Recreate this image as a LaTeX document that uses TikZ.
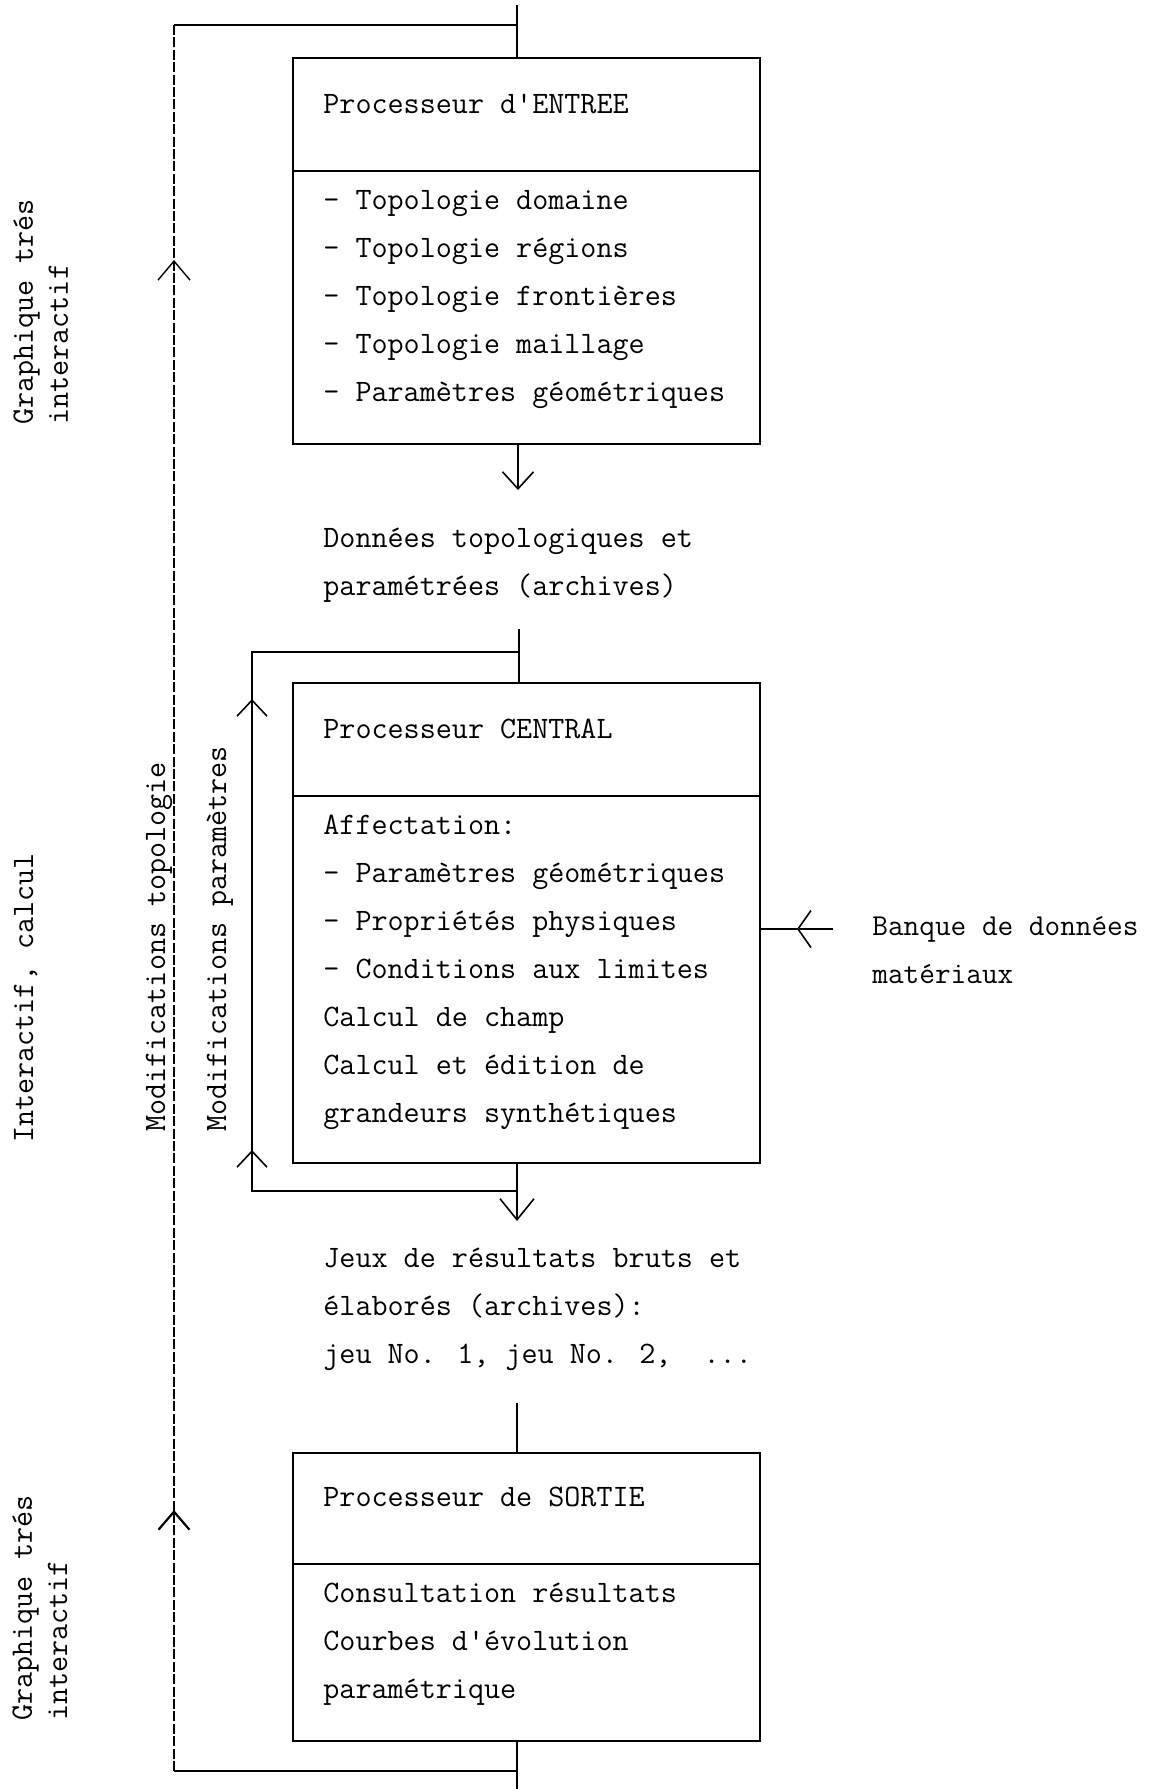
\documentclass[tikz,border=0pt]{standalone}
\usepackage{fontspec}
\usetikzlibrary{arrows.meta,decorations.markings}
\begin{document}
\begin{tikzpicture}[x=0.5pt,y=-0.5pt,
  boxst/.style={draw, line width=1.1pt, minimum width=233.5pt, inner sep=0pt, anchor=north west},
  divline/.style={line width=1pt},
  conn/.style={line width=0.8pt},
  thinv/.style={line width=0.6pt, dash pattern=on 5pt off 1.2pt},
  txt/.style={font=\fontsize{15.6pt}{24pt}\selectfont\ttfamily, anchor=base west, inner sep=0pt, align=left},
  rot/.style={font=\fontsize{15.6pt}{17.5pt}\selectfont\ttfamily, anchor=base west, inner sep=0pt, align=left, rotate=90},
  barbtip/.style 2 args={-{Straight Barb[length=#1,width=#2]}}
]
\useasboundingbox (0,0) rectangle (1152,1789);

% boxes
\node[boxst, minimum height=193pt] (b1) at (292,57) {};
\node[boxst, minimum height=240pt] (b2) at (292,682) {};
\node[boxst, minimum height=144pt] (b3) at (292,1452) {};
\draw[divline] (b1.west |- 0,171) -- (b1.east |- 0,171);
\draw[divline] (b2.west |- 0,796) -- (b2.east |- 0,796);
\draw[divline] (b3.west |- 0,1564) -- (b3.east |- 0,1564);

% texts (anchor = baseline of the last line)
\node[txt] (t1) at (323,113) {Processeur d'ENTREE};
\node[txt] (l1) at (323,401) {- Topologie domaine\\- Topologie régions\\- Topologie frontières\\- Topologie maillage\\- Paramètres géométriques};
\node[txt] (d1) at (323,595) {Données topologiques et\\paramétrées (archives)};
\node[txt] (t2) at (323,738) {Processeur CENTRAL};
\node[txt] (l2) at (323,1122) {Affectation:\\- Paramètres géométriques\\- Propriétés physiques\\- Conditions aux limites\\Calcul de champ\\Calcul et édition de\\grandeurs synthétiques};
\node[txt, font=\fontsize{15.2pt}{24pt}\selectfont\ttfamily] (bk) at (872,983) {Banque de données\\matériaux};
\node[txt] (d2) at (323,1363) {Jeux de résultats bruts et\\élaborés (archives):\\jeu No. 1, jeu No. 2,~~...};
\node[txt] (t3) at (323,1506) {Processeur de SORTIE};
\node[txt] (l3) at (323,1698) {Consultation résultats\\Courbes d'évolution\\paramétrique};

% rotated labels
\node[rot] (g1) at (68,425) {Graphique trés\\interactif};
\node[rot] (ic) at (33,1143) {Interactif, calcul};
\node[rot] (mt) at (165,1132) {Modifications topologie};
\node[rot] (mp) at (226,1132) {Modifications paramètres};
\node[rot] (g2) at (67,1721) {Graphique trés\\interactif};

% coordinates
\coordinate (topin) at (517,5);
\coordinate (tl) at (174,25);
\coordinate (tj) at (517,25);
\coordinate (bl) at (174,1771);
\coordinate (bj) at (517,1771);
\coordinate (botout) at (517,1789);
\coordinate (a1) at (518,490);
\coordinate (c0) at (519,629);
\coordinate (cj) at (519,652);
\coordinate (ctl) at (252,652);
\coordinate (cbl) at (252,1191);
\coordinate (cbj) at (517,1191);
\coordinate (a2) at (517,1221);
\coordinate (rk) at (833,929);
\coordinate (s0) at (517,1403);

% big outer loop
\draw[conn] (topin) -- (b1.north -| topin);
\draw[conn] (tl) -- (tj);
\draw[thinv, postaction={decorate, decoration={markings,
    mark=at position 130.5pt with {\arrow[line width=1.1pt]{Straight Barb[length=9pt,width=15.5pt]}},
    mark=at position 755.5pt with {\arrow[line width=0.7pt]{Straight Barb[length=9.5pt,width=16pt]}}}}]
  (bl) -- (tl);
\draw[conn] (bj) -- (bl);
\draw[conn] (b3.south -| bj) -- (botout);

% entree -> donnees
\draw[conn, barbtip={8.5pt}{15.5pt}] (b1.south -| a1) -- (a1);

% central
\draw[conn] (c0) -- (b2.north -| c0);
\draw[conn, postaction={decorate, decoration={markings,
    mark=at position 153pt with {\arrow[line width=0.8pt]{Straight Barb[length=8pt,width=15pt]}},
    mark=at position 378.5pt with {\arrow[line width=0.8pt]{Straight Barb[length=8pt,width=15pt]}}}}]
  (cbj) -- (cbl) -- (ctl) -- (cj);
\draw[conn, barbtip={10.5pt}{17pt}] (b2.south -| a2) -- (a2);
\draw[conn, postaction={decorate, decoration={markings,
    mark=at position 18pt with {\arrow[line width=0.8pt]{Straight Barb[length=6.5pt,width=18.5pt]}}}}]
  (rk) -- (b2.east |- rk);

% sortie
\draw[conn] (s0) -- (b3.north -| s0);
\end{tikzpicture}
\end{document}
